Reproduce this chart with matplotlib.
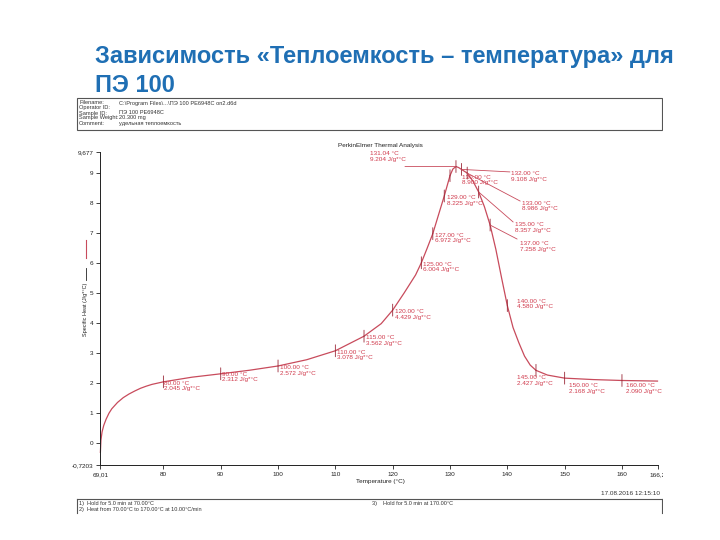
import matplotlib
matplotlib.use("Agg")
import matplotlib.pyplot as plt
from matplotlib.lines import Line2D
from matplotlib.patches import Rectangle

plt.rcParams['font.family'] = ['Liberation Sans', 'DejaVu Sans']

# ---------------- data ----------------
title_lines = ["Зависимость «Теплоемкость – температура» для", "ПЭ 100"]

temps = [69.01, 69.1, 69.3, 69.6, 70.0, 70.5, 71, 72, 73, 74, 75, 76, 77, 78, 80,
         85, 90, 95, 100, 105, 110, 115, 118, 120, 122, 124, 125, 126, 127, 128,
         129, 130, 130.5, 131.04, 131.5, 132, 133, 134, 135, 136, 137, 138, 139,
         140, 141, 142, 143, 144, 145, 147, 150, 155, 160, 166.2]
cp = [-0.3, 0.1, 0.38, 0.6, 0.8, 1.0, 1.15, 1.36, 1.52, 1.64, 1.74, 1.83, 1.9, 1.96, 2.045,
      2.2, 2.312, 2.43, 2.572, 2.78, 3.078, 3.562, 3.98, 4.429, 5.0, 5.6, 6.004, 6.48, 6.972, 7.6,
      8.225, 8.9, 9.12, 9.204, 9.17, 9.108, 8.986, 8.72, 8.357, 7.87, 7.258, 6.45, 5.5,
      4.58, 3.85, 3.35, 2.9, 2.6, 2.427, 2.27, 2.168, 2.12, 2.09, 2.07]

mark_T = [80, 90, 100, 110, 115, 120, 125, 127, 129, 130, 131.04, 132, 133, 135, 137, 140, 145, 150, 160]
mark_cp = [2.045, 2.312, 2.572, 3.078, 3.562, 4.429, 6.004, 6.972, 8.225, 8.900, 9.204,
           9.108, 8.986, 8.357, 7.258, 4.580, 2.427, 2.168, 2.090]

x_ticks = [69.01, 80, 90, 100, 110, 120, 130, 140, 150, 160, 166.2]
x_tick_labels = ["69,01", "80", "90", "100", "110", "120", "130", "140", "150", "160", "166,2"]
y_ticks = [-0.7203, 0, 1, 2, 3, 4, 5, 6, 7, 8, 9, 9.677]
y_tick_labels = ["-0,7203", "0", "1", "2", "3", "4", "5", "6", "7", "8", "9", "9,677"]

header_fields = ["Filename:", "Operator ID:", "Sample ID:", "Sample Weight:", "Comment:"]
header_values = ["C:\\Program Files\\...\\ПЭ 100 PE6948C on2.d6d", "", "ПЭ 100 PE6948C",
                 "20.300 mg", "удельная теплоемкость"]
method_left = ["1)  Hold for 5.0 min at 70.00°C", "2)  Heat from 70.00°C to 170.00°C at 10.00°C/min"]
method_right = "3)    Hold for 5.0 min at 170.00°C"
timestamp = "17.08.2016 12:15:10"
chart_title = "PerkinElmer Thermal Analysis"
x_label = "Temperature (°C)"
y_label = "Specific Heat (J/g*°C)"

# ---------------- layout / style ----------------
W, H = 720, 540
def fx(p): return p / W
def fy(p): return 1 - p / H

CURVE = "#c84b5c"
ANN = "#d03a4c"
TICKC = "#9a2636"
BLUE = "#1f6fb4"
SMALL = 4.6

# label offsets in pixels (dx, dy image-down) of label top-left relative to point
label_off = [(1, -1), (1.5, -2), (2, -1), (1.5, -1), (2, -1), (2, -1), (2, -1), (2, -1),
             (3, -1), (12.5, -1), (-86, -15.5), (50, 1.5), (54.5, 27.5), (36.5, 30),
             (30, 16), (10, -7), (-18.7, 5), (4.7, 5), (3.8, 2.5)]
# leader line ends (pixel offsets), None = no leader
leader_off = [None] * 10 + [(-51, 0), (48.5, 2.5), (53, 28), (34.5, 30), (27, 14)] + [None] * 4

fig = plt.figure(figsize=(7.2, 5.4), dpi=100)
fig.patch.set_facecolor("white")

# title
fig.text(fx(95), fy(63), title_lines[0], fontsize=17, fontweight="bold", color=BLUE,
         ha="left", va="baseline")
fig.text(fx(95), fy(92), title_lines[1], fontsize=17, fontweight="bold", color=BLUE,
         ha="left", va="baseline")

# axes
ax = fig.add_axes([fx(100.4), fy(465), (657.5 - 100.4) / W, (465 - 152.3) / H])
ax.set_xlim(69.01, 166.2)
ax.set_ylim(-0.7203, 9.677)
for s in ["top", "right"]:
    ax.spines[s].set_visible(False)
for s in ["left", "bottom"]:
    ax.spines[s].set_linewidth(0.7)
    ax.spines[s].set_color("#222222")
ax.set_xticks(x_ticks)
ax.set_xticklabels(x_tick_labels)
ax.set_yticks(y_ticks)
ax.set_yticklabels(y_tick_labels)
ax.tick_params(direction="out", length=3, width=0.6, labelsize=SMALL, pad=2, colors="#222222")

ax.plot(temps, cp, color=CURVE, lw=0.9, clip_on=False)

for T, v, (dx, dy), lo in zip(mark_T, mark_cp, label_off, leader_off):
    ax.annotate("", xy=(T, v), xytext=(0, 6), textcoords="offset pixels",
                arrowprops=dict(arrowstyle="-", color=TICKC, lw=0.6, shrinkA=0, shrinkB=0))
    ax.annotate("", xy=(T, v), xytext=(0, -6), textcoords="offset pixels",
                arrowprops=dict(arrowstyle="-", color=TICKC, lw=0.6, shrinkA=0, shrinkB=0))
    ax.annotate(f"{T:.2f} °C\n{v:.3f} J/g*°C", xy=(T, v), xytext=(dx, -dy),
                textcoords="offset pixels", ha="left", va="top", fontsize=SMALL,
                color=ANN, linespacing=1.15)
    if lo is not None:
        ax.annotate("", xy=(T, v), xytext=(lo[0], -lo[1]), textcoords="offset pixels",
                    arrowprops=dict(arrowstyle="-", color=CURVE, lw=0.6, shrinkA=0, shrinkB=0))

# axis labels & legend sample
fig.text(fx(86), fy(309), y_label, rotation=90, ha="center", va="center", fontsize=4.0,
         color="#222222")
fig.add_artist(Line2D([fx(86), fx(86)], [fy(268), fy(280)], color="#222222", lw=0.6))
fig.add_artist(Line2D([fx(86), fx(86)], [fy(240), fy(258)], color=CURVE, lw=0.8))
fig.text(fx(380), fy(481), x_label, ha="center", va="center", fontsize=SMALL, color="#222222")
fig.text(fx(380), fy(145), chart_title, ha="center", va="center", fontsize=SMALL, color="#222222")

# header box
fig.add_artist(Rectangle((fx(77), fy(129.5)), (662 - 77) / W, (129.5 - 98) / H,
                         transform=fig.transFigure, fill=False, ec="#555555", lw=0.8))
rows_base = [104.5, 109.5, 114.5, 119.5, 124.5]
for f, val, yy in zip(header_fields, header_values, rows_base):
    fig.text(fx(79), fy(yy), f, ha="left", va="baseline", fontsize=4.1, color="#333333")
    fig.text(fx(119), fy(yy), val, ha="left", va="baseline", fontsize=4.1, color="#333333")

# bottom method box
for xs, ys in [([77, 662], [499, 499]), ([77, 77], [499, 513]), ([662, 662], [499, 513])]:
    fig.add_artist(Line2D([fx(x) for x in xs], [fy(y) for y in ys], color="#555555", lw=0.8))
fig.text(fx(79), fy(505), method_left[0], ha="left", va="baseline", fontsize=4.0, color="#333333")
fig.text(fx(79), fy(511), method_left[1], ha="left", va="baseline", fontsize=4.0, color="#333333")
fig.text(fx(372), fy(505), method_right, ha="left", va="baseline", fontsize=4.0, color="#333333")
fig.text(fx(660), fy(493.5), timestamp, ha="right", va="center", fontsize=SMALL, color="#333333")

# screenshot crop on the right
fig.add_artist(Rectangle((fx(663), 0), 1 - fx(663), fy(96), transform=fig.transFigure,
                         fc="white", ec="none", zorder=100))

fig.savefig("out.png", dpi=100, facecolor="white")
